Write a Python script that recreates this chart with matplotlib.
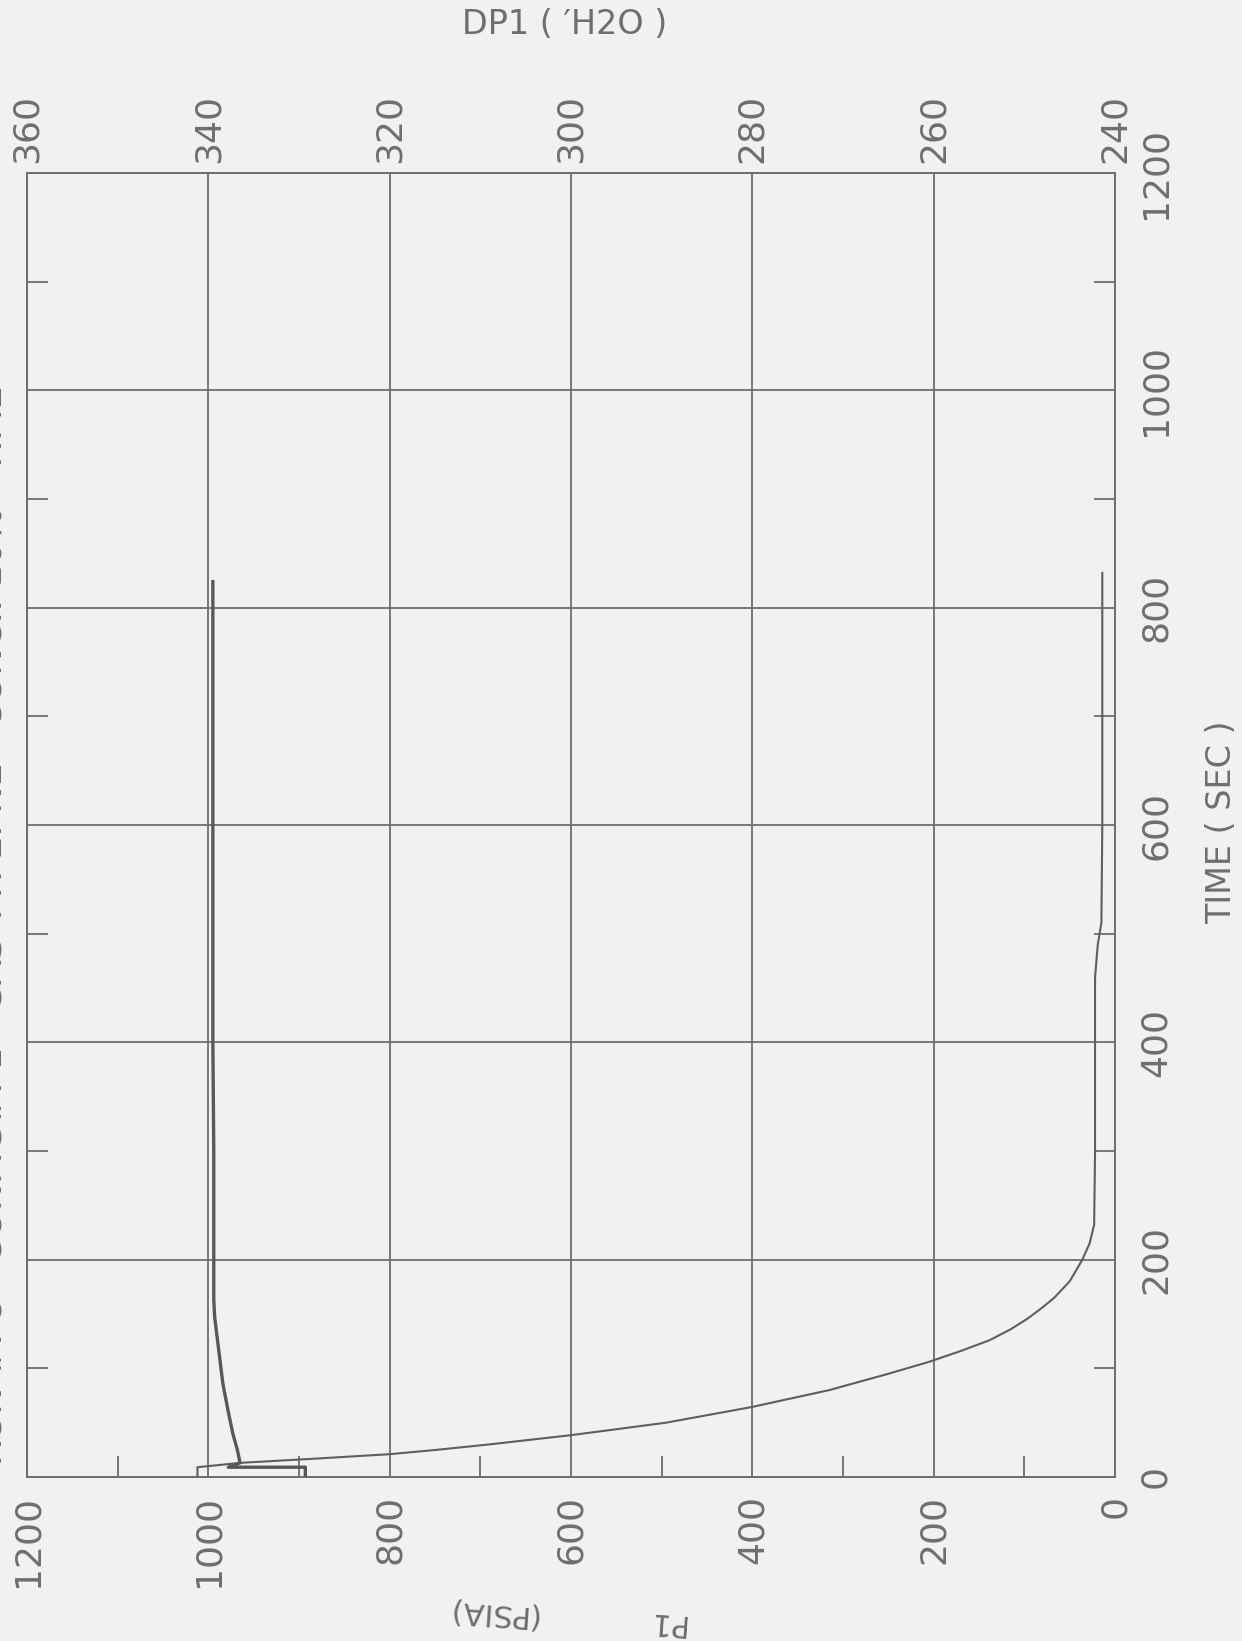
import matplotlib
matplotlib.use("Agg")
import matplotlib.pyplot as plt

# scanned plotter sheet, drawn already turned 90 degrees (time runs upward)
W, H = 1242, 1641

# P1 trace (time in s, pressure in psia)
time_p1 = [0, 9, 13, 17, 21, 25, 30, 38.5, 50, 64.5, 80, 95, 106, 116, 126,
           136, 146, 156, 165, 180, 200, 215, 232, 300, 400, 460, 490, 510,
           600, 700, 832]
p1_psia = [1012, 1012, 965, 880, 800, 748, 690, 600, 495, 400, 315, 250, 205,
           170, 138, 115, 96, 80, 67, 50, 36, 28, 23, 22, 22, 22, 19, 15,
           14, 14, 14]

# DP1 trace (time in s, inches of water)
time_dp1 = [0, 9, 9, 13, 25, 40, 60, 86, 120, 147, 163, 200, 300, 400, 500,
            600, 700, 824]
dp1_h2o = [329.3, 329.3, 337.8, 336.5, 336.8, 337.3, 337.8, 338.4, 338.9,
           339.3, 339.4, 339.4, 339.4, 339.5, 339.5, 339.5, 339.5, 339.5]

p1_ticks = [0, 200, 400, 600, 800, 1000, 1200]
p1_minor = [100, 300, 500, 700, 900, 1100]
dp1_ticks = [360, 340, 320, 300, 280, 260, 240]
time_ticks = [0, 200, 400, 600, 800, 1000, 1200]
time_minor = [100, 300, 500, 700, 900, 1100]

title = "RUN #: 8   CONFIG#: 1   GAS TYPE: NE   CONC.: 10%   TIME"

paper = "#f1f1f0"
ink = "#6e6e6e"
fs = 26

plt.rcParams["font.family"] = ["DejaVu Sans"]

fig = plt.figure(figsize=(W / 100, H / 100), dpi=100)
fig.patch.set_facecolor(paper)

ax = fig.add_axes([27 / W, 1 - 1477 / H, 1088 / W, 1304 / H])
ax.set_facecolor(paper)
ax.set_xlim(1200, 0)
ax.set_ylim(0, 1200)

ax.set_xticks(p1_ticks)
ax.set_xticklabels([str(v) for v in p1_ticks], rotation=90)
ax.set_xticks(p1_minor, minor=True)

ax.yaxis.tick_right()
ax.set_yticks(time_ticks)
ax.set_yticklabels([str(v) for v in time_ticks], rotation=90, va="center")
ax.set_yticks(time_minor, minor=True)

ax.grid(True, which="major", color=ink, lw=1.3)
ax.tick_params(which="major", length=0, labelsize=fs, labelcolor=ink)
ax.tick_params(axis="x", which="major", pad=13)
ax.tick_params(axis="y", which="major", pad=17)
ax.tick_params(which="minor", direction="in", length=15, width=1.3, color=ink,
               top=True, bottom=True, left=True, right=True)
for sp in ax.spines.values():
    sp.set_color(ink)
    sp.set_linewidth(1.4)

# DP1 scale along the top edge
ax2 = ax.twiny()
ax2.set_xlim(360, 240)
ax2.set_xticks(dp1_ticks)
ax2.set_xticklabels([str(v) for v in dp1_ticks], rotation=90)
ax2.xaxis.set_minor_locator(matplotlib.ticker.NullLocator())
ax2.tick_params(length=0, pad=7, labelsize=fs, labelcolor=ink)
for sp in ax2.spines.values():
    sp.set_visible(False)

ax.plot(p1_psia, time_p1, color="#5e5e5e", lw=1.5, zorder=3)
ax2.plot(dp1_h2o, time_dp1, color="#585858", lw=2.4, zorder=3)

# axis titles, placed as on the turned sheet
fig.text(565 / W, 1 - 24 / H, "DP1 ( \u2032H2O )", ha="center", va="center",
         fontsize=24, color=ink)
fig.text(1222 / W, 1 - 822 / H, "TIME ( SEC )", ha="center", va="center",
         rotation=90, fontsize=24, color=ink)
fig.text(492 / W, 1 - 1612 / H, "(PSIA)", ha="center", va="center",
         rotation=176, fontsize=22, color=ink)
fig.text(666 / W, 1 - 1622 / H, "P1", ha="center", va="center",
         rotation=176, fontsize=22, color=ink)

# title, mostly cut off at the left edge of the scan
fig.text(9 / W, 1 - 1465 / H, title, rotation=90, rotation_mode="anchor",
         ha="left", va="bottom", fontsize=fs, color=ink)

fig.savefig("out.png", dpi=100, facecolor=paper)
